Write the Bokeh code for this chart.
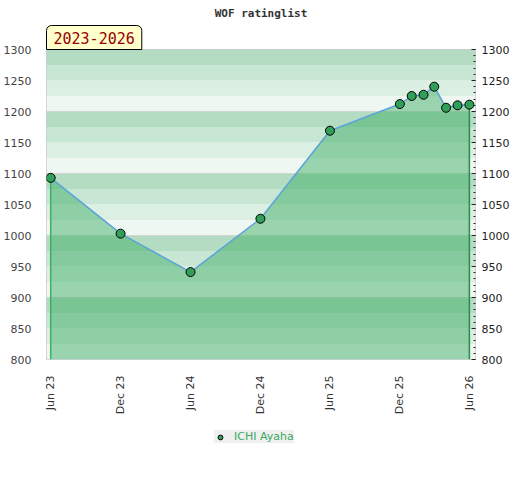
import math
from datetime import datetime
from bokeh.plotting import figure
from bokeh.layouts import column
from bokeh.models import (Range1d, LinearAxis, SingleIntervalTicker, FixedTicker,
                          DatetimeTickFormatter, BoxAnnotation, Span, Title, Legend,
                          LegendItem, ColumnDataSource)
from bokeh.embed import file_html
from bokeh.resources import INLINE

# ---------------- data ----------------
title_text = "WOF ratinglist"
period_text = "2023-2026"
player = "ICHI Ayaha"
dates = ["2023-06-01", "2023-12-01", "2024-06-01", "2024-12-01", "2025-06-01",
         "2025-12-01", "2026-01-01", "2026-02-01", "2026-03-01", "2026-04-01",
         "2026-05-01", "2026-06-01"]
ratings = [1093, 1003, 941, 1027, 1169, 1212, 1225, 1227, 1240, 1206, 1210, 1211]
tick_dates = ["2023-06-01", "2023-12-01", "2024-06-01", "2024-12-01",
              "2025-06-01", "2025-12-01", "2026-06-01"]
y_min, y_max = 800, 1300
band_bottoms = [800, 825, 850, 875, 900, 925, 950, 975, 1000, 1025, 1050, 1075,
                1100, 1125, 1150, 1175, 1200, 1225, 1250, 1275]
band_palette = ["#eff7f2", "#dcefe3", "#c8e6d4", "#b3dcc3"]
grid_levels = [900, 1000, 1100, 1200]

x_dates = [datetime.fromisoformat(d) for d in dates]
tick_ms = [datetime.fromisoformat(d).timestamp() * 1000 for d in tick_dates]
x_start = datetime(2023, 5, 21)
x_end = datetime(2026, 6, 17)

src = ColumnDataSource(dict(x=x_dates, y=ratings))

p = figure(x_axis_type="datetime", frame_width=429, frame_height=310,
           min_border_left=38, min_border_right=0, min_border_top=42,
           min_border_bottom=0, output_backend="svg", toolbar_location=None,
           x_range=Range1d(x_start, x_end), y_range=Range1d(y_min, y_max),
           background_fill_color="white", border_fill_color="white")
p.title = None
p.outline_line_color = "#cccccc"
p.xgrid.visible = False
p.ygrid.visible = False

# period box (nearest the frame), then main title above it
p.add_layout(Title(text=period_text, align="left", text_font="DejaVu Sans Mono",
                   text_font_size="15px", text_font_style="normal",
                   text_color="#990000", background_fill_color="#ffffcc",
                   border_line_color="black", border_line_width=1, padding=(7, 6),
                   border_radius=(5, 5, 0, 0), standoff=0), "above")
p.add_layout(Title(text=title_text, align="center", text_font="DejaVu Sans Mono",
                   text_font_size="11px", text_font_style="bold",
                   text_color="#333333", standoff=8), "above")

# bands
for i, b in enumerate(band_bottoms):
    col = band_palette[(i % 4)]
    p.add_layout(BoxAnnotation(bottom=b, top=b + 25, fill_color=col, fill_alpha=1.0,
                               line_color=None, level="underlay"))
for g in grid_levels:
    p.add_layout(Span(location=g, dimension="width", line_color="#d2d6d3",
                      line_width=1, level="underlay"))

# area, line, verticals, points
p.varea(x="x", y1=y_min, y2="y", source=src, fill_color="#34aa5e", fill_alpha=0.46)
p.line(x="x", y="y", source=src, line_color="#5ba3d9", line_width=1.5)
p.segment(x0=[x_dates[0]], y0=[ratings[0]], x1=[x_dates[0]], y1=[y_min],
          line_color="#3cb064", line_width=1.5)
p.segment(x0=[x_dates[-1]], y0=[ratings[-1]], x1=[x_dates[-1]], y1=[y_min],
          line_color="#2d8a4a", line_width=1.5)
pts = p.scatter(x="x", y="y", source=src, size=9, fill_color="#30a058",
                line_color="black", line_width=1)

# x axis
xa = p.xaxis[0]
xa.ticker = FixedTicker(ticks=tick_ms)
fmt = "%b %y"
xa.formatter = DatetimeTickFormatter(microseconds=fmt, milliseconds=fmt, seconds=fmt,
                                     minsec=fmt, minutes=fmt, hourmin=fmt, hours=fmt,
                                     days=fmt, months=fmt, years=fmt)
xa.major_label_orientation = math.pi / 2
xa.major_tick_line_color = None
xa.minor_tick_line_color = None
xa.axis_line_color = None
xa.major_label_text_font = "DejaVu Sans"
xa.major_label_text_font_size = "11px"
xa.major_label_text_color = "#333333"
xa.major_label_standoff = 10

# left y axis
ya = p.yaxis[0]
ya.ticker = SingleIntervalTicker(interval=50, num_minor_ticks=0)
ya.major_tick_line_color = None
ya.minor_tick_line_color = None
ya.axis_line_color = None
ya.major_label_text_font = "DejaVu Sans"
ya.major_label_text_font_size = "11px"
ya.major_label_text_color = "#444444"
ya.major_label_standoff = 9

# right y axis
ra = LinearAxis(ticker=SingleIntervalTicker(interval=50, num_minor_ticks=5))
ra.axis_line_color = None
ra.major_tick_in = 4
ra.major_tick_out = 0
ra.minor_tick_in = 2
ra.minor_tick_out = 0
ra.major_tick_line_color = "#222222"
ra.minor_tick_line_color = "#222222"
ra.major_label_text_font = "DejaVu Sans"
ra.major_label_text_font_size = "11px"
ra.major_label_text_color = "#222222"
ra.major_label_standoff = 6
p.add_layout(ra, "right")

# legend strip below the chart (key renderer uses the data, kept off-range)
lf = figure(width=500, height=40, min_border=0, output_backend="svg",
            toolbar_location=None, x_axis_location=None, y_axis_location=None,
            x_range=Range1d(0, 1), y_range=Range1d(0, 1),
            background_fill_color="white", border_fill_color="white")
lf.outline_line_color = None
lf.xgrid.visible = False
lf.ygrid.visible = False
key = lf.scatter(x="x", y="y", source=src, size=9, fill_color="#30a058",
                 line_color="black", line_width=1)
legend = Legend(items=[LegendItem(label=player, renderers=[key])],
                location=(168, 14), orientation="horizontal",
                background_fill_color="#f0f0f0", background_fill_alpha=1.0,
                border_line_color=None, label_text_color="#3aaa60",
                label_text_font="DejaVu Sans", label_text_font_size="11px",
                glyph_width=12, glyph_height=12, label_standoff=8, padding=6,
                margin=0, label_height=12)
lf.add_layout(legend)

layout = column(p, lf, spacing=0)
open("out.html", "w").write(file_html(layout, INLINE))
